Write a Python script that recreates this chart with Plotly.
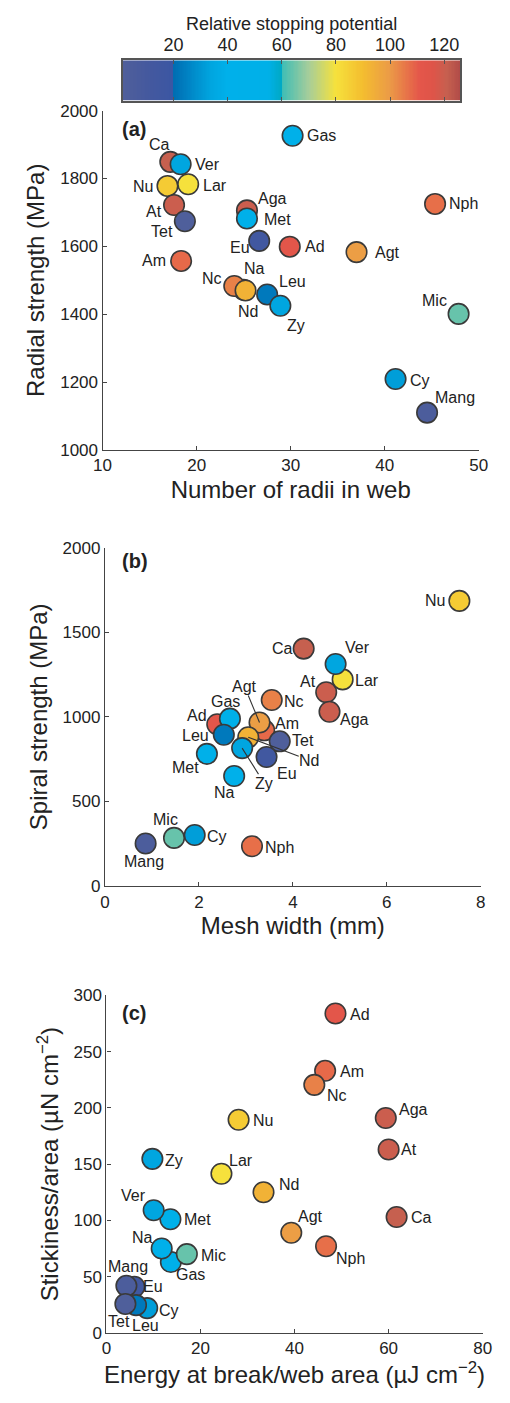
import numpy as np
import plotly.graph_objects as go

# ---------------------------------------------------------------- data
species = ["Ad", "Aga", "Agt", "Am", "At", "Ca", "Cy", "Eu", "Gas", "Lar", "Leu",
           "Mang", "Met", "Mic", "Na", "Nc", "Nd", "Nph", "Nu", "Tet", "Ver", "Zy"]

stopping_potential = [112, 120, 99, 108, 120, 121, 32, 14, 45, 80, 23,
                      5, 45, 64, 42, 104, 93, 107, 86, 2, 34, 34]

radii_count = [29.9, 25.35, 37.0, 18.35, 17.6, 17.2, 41.15, 26.65, 30.2, 19.1, 27.5,
               44.5, 25.35, 47.85, 25.0, 24.0, 25.2, 45.35, 16.9, 18.75, 18.3, 28.9]
radial_strength = [1599, 1706, 1583, 1557, 1722, 1849, 1209, 1616, 1926, 1783, 1458,
                   1110, 1682, 1401, 1472, 1483, 1470, 1725, 1778, 1674, 1842, 1425]

mesh_width = [2.39, 4.78, 3.29, 3.39, 4.71, 4.23, 1.91, 3.44, 2.66, 5.06, 2.53,
              0.865, 2.17, 1.47, 2.75, 3.55, 3.05, 3.13, 7.545, 3.72, 4.91, 2.92]
spiral_strength = [956, 1030, 966, 920, 1145, 1403, 301, 762, 989, 1221, 894,
                   251, 781, 284, 650, 1099, 879, 235, 1685, 855, 1312, 815]

energy_per_area = [48.7, 59.4, 39.3, 46.5, 60.0, 61.7, 8.67, 5.94, 13.7, 24.45, 6.29,
                   4.24, 13.6, 17.1, 11.75, 44.2, 33.4, 46.7, 28.1, 4.03, 10.04, 9.77]
stickiness = [284, 191, 89, 233, 163, 103, 22, 41, 63, 141.5, 24.6,
              41.8, 101, 70, 75, 220.5, 125, 77, 189.5, 25.7, 109, 154.7]

cbar_ticks = [20, 40, 60, 80, 100, 120]
a_xticks = [10, 20, 30, 40, 50]
a_yticks = [1000, 1200, 1400, 1600, 1800, 2000]
b_xticks = [0, 2, 4, 6, 8]
b_yticks = [0, 500, 1000, 1500, 2000]
c_xticks = [0, 20, 40, 60, 80]
c_yticks = [0, 50, 100, 150, 200, 250, 300]

# ---------------------------------------------------------------- colour map
CMIN, CMAX = 0, 126
cmap_stops = [(0, "#52609a"), (10, "#45599e"), (19.9, "#3b56a3"), (20, "#006db2"),
              (34, "#00a6e0"), (40, "#00b0ea"), (55, "#00b0e8"), (59.9, "#00a9c4"),
              (60, "#3dbdb6"), (70, "#a6cd9a"), (80, "#f6e13c"), (90, "#f4bd2f"),
              (100, "#eb9a47"), (111, "#e4564a"), (116, "#de5449"), (121, "#c6604f"),
              (126, "#b04b48")]
colorscale = [[v / CMAX, c] for v, c in cmap_stops]

FONT = "Liberation Sans, Arial, Helvetica, sans-serif"
INK = "#222222"
AXIS = "#444444"
W, H = 510, 1403

idx = {s: i for i, s in enumerate(species)}

# ---------------------------------------------------------------- layout helpers (pixel boxes)
def xdom(l, r):
    return [l / W, r / W]

def ydom(top, bottom):
    return [1 - bottom / H, 1 - top / H]

# drawing order (later = on top) and label placement per panel:
# name -> (anchor, dx, dy) in screen pixels, dy downward
order_a = ["Gas", "Ca", "Ver", "Nu", "Lar", "At", "Tet", "Aga", "Met", "Eu", "Ad", "Agt",
           "Nph", "Am", "Na", "Nc", "Nd", "Leu", "Zy", "Mic", "Cy", "Mang"]
labels_a = {"Gas": ("l", 13, 0), "Ca": ("c", -11, -17), "Ver": ("l", 13, 0),
            "Nu": ("r", -13, 1), "Lar": ("l", 14, 1), "At": ("r", -11, 7),
            "Tet": ("r", -11, 10), "Aga": ("l", 10, -12), "Met": ("l", 16, 1),
            "Eu": ("r", -8, 7), "Ad": ("l", 14, 0), "Agt": ("l", 17, 0),
            "Nph": ("l", 13, 0), "Am": ("r", -14, 0), "Nc": ("r", -11, -8),
            "Na": ("c", 11, -21), "Nd": ("c", 2, 21), "Leu": ("l", 11, -13),
            "Zy": ("c", 16, 20), "Mic": ("r", -11, -13), "Cy": ("l", 13, 1),
            "Mang": ("l", 7, -15)}
leaders_a = {}

order_b = ["Nu", "Ca", "Lar", "Ver", "At", "Aga", "Nc", "Ad", "Gas", "Leu", "Met", "Am",
           "Agt", "Tet", "Nd", "Zy", "Eu", "Na", "Mic", "Cy", "Mang", "Nph"]
labels_b = {"Nu": ("r", -13, 0), "Ca": ("r", -10, 0), "Ver": ("l", 8, -16),
            "Lar": ("l", 11, 1), "At": ("r", -9, -11), "Nc": ("l", 11, 1),
            "Aga": ("l", 10, 8), "Gas": ("c", -4, -17), "Ad": ("r", -9, -9),
            "Am": ("l", 10, -7), "Leu": ("r", -14, 1), "Tet": ("l", 11, -1),
            "Eu": ("l", 9, 16), "Met": ("r", -7, 14), "Na": ("c", -10, 17),
            "Mic": ("c", -9, -18), "Cy": ("l", 11, 1), "Mang": ("c", -2, 18),
            "Nph": ("l", 12, 1)}
leaders_b = {"Agt": (-15, -36), "Nd": (61, 23), "Zy": (22, 35)}

order_c = ["Ad", "Am", "Nc", "Aga", "At", "Nu", "Zy", "Lar", "Nd", "Met", "Ver", "Ca",
           "Agt", "Nph", "Gas", "Na", "Mic", "Eu", "Mang", "Cy", "Leu", "Tet"]
labels_c = {"Ad": ("l", 14, 1), "Am": ("l", 14, 1), "Nc": ("l", 12, 11),
            "Aga": ("l", 12, -9), "Nu": ("l", 13, 1), "At": ("l", 11, 0),
            "Zy": ("l", 12, 2), "Lar": ("l", 7, -13), "Nd": ("l", 14, -8),
            "Ver": ("r", -7, -15), "Met": ("l", 13, 0), "Ca": ("l", 13, 1),
            "Agt": ("l", 6, -16), "Nph": ("l", 9, 12), "Na": ("r", -8, -11),
            "Mic": ("l", 13, 1), "Gas": ("l", 4, 13), "Mang": ("c", 2, -19),
            "Eu": ("l", 8, 0), "Tet": ("c", -6, 18), "Leu": ("c", 9, 20),
            "Cy": ("l", 11, 2)}
leaders_c = {}

fig = go.Figure()
annotations = []

def add_panel(xs, ys, xa, ya, order, labels, leaders):
    ii = [idx[s] for s in order]
    fig.add_trace(go.Scatter(
        x=[xs[i] for i in ii], y=[ys[i] for i in ii],
        mode="markers", xaxis=xa, yaxis=ya,
        text=[species[i] for i in ii],
        marker=dict(size=20.5, color=[stopping_potential[i] for i in ii],
                    colorscale=colorscale, cmin=CMIN, cmax=CMAX, showscale=False,
                    line=dict(color="#3a3a3a", width=1.6)),
        showlegend=False, hoverinfo="text",
    ))
    anchor_map = {"l": "left", "r": "right", "c": "center"}
    for name, (anc, dx, dy) in labels.items():
        i = idx[name]
        annotations.append(dict(
            x=xs[i], y=ys[i], xref=xa, yref=ya, text=name, showarrow=False,
            xanchor=anchor_map[anc], yanchor="middle", xshift=dx, yshift=-dy,
            borderpad=0, font=dict(family=FONT, size=16, color=INK)))
    for name, (ax, ay) in leaders.items():
        i = idx[name]
        annotations.append(dict(
            x=xs[i], y=ys[i], xref=xa, yref=ya, text=name, showarrow=True,
            arrowhead=0, arrowwidth=1.1, arrowcolor="#333333", ax=ax, ay=ay,
            standoff=0, borderpad=0, font=dict(family=FONT, size=16, color=INK)))

add_panel(radii_count, radial_strength, "x", "y", order_a, labels_a, leaders_a)
add_panel(mesh_width, spiral_strength, "x2", "y2", order_b, labels_b, leaders_b)
add_panel(energy_per_area, stickiness, "x3", "y3", order_c, labels_c, leaders_c)

# colour bar strip drawn as a one-row heatmap on its own axes
strip = np.arange(CMIN, CMAX, 0.5) + 0.25
fig.add_trace(go.Heatmap(
    x=strip, y=[0], z=[strip], colorscale=colorscale, zmin=CMIN, zmax=CMAX,
    showscale=False, xaxis="x4", yaxis="y4", hoverinfo="skip"))

def axis_style(domain, rng, ticks, title, anchor, standoff):
    return dict(domain=domain, range=rng, tickvals=ticks, showline=True,
                linecolor=AXIS, linewidth=1.3, ticks="inside", ticklen=4,
                tickcolor=AXIS, tickwidth=1.2, showgrid=False, zeroline=False,
                anchor=anchor, tickfont=dict(family=FONT, size=17, color=INK),
                title=dict(text=title, font=dict(family=FONT, size=24, color=INK),
                           standoff=standoff))

layout = dict(
    width=W, height=H, margin=dict(l=0, r=0, t=0, b=0),
    paper_bgcolor="white", plot_bgcolor="white",
    font=dict(family=FONT, color=INK),
    xaxis=axis_style(xdom(97, 487), [10, 50], a_xticks, "Number of radii in web", "y", 6),
    yaxis=axis_style(ydom(103, 447), [1000, 2000], a_yticks, "Radial strength (MPa)", "x", 8),
    xaxis2=axis_style(xdom(99.5, 489), [0, 8], b_xticks, "Mesh width (mm)", "y2", 6),
    yaxis2=axis_style(ydom(546, 889), [0, 2000], b_yticks, "Spiral strength (MPa)", "x2", 8),
    xaxis3=axis_style(xdom(101, 491), [0, 80], c_xticks,
                      "Energy at break/web area (µJ cm<sup>−2</sup>)", "y3", 6),
    yaxis3=axis_style(ydom(1000, 1342), [0, 300], c_yticks,
                      "Stickiness/area (µN cm<sup>−2</sup>)", "x3", 8),
    xaxis4=dict(domain=xdom(118, 468), range=[1.3, 126], tickvals=cbar_ticks,
                side="top", anchor="y4", showline=True, mirror="ticks",
                linecolor="#555555", linewidth=1.5, ticks="inside", ticklen=4,
                tickcolor="#555555", showgrid=False, zeroline=False,
                tickfont=dict(family=FONT, size=18, color=INK),
                title=dict(text="Relative stopping potential",
                           font=dict(family=FONT, size=18, color=INK), standoff=0)),
    yaxis4=dict(domain=ydom(52, 93), range=[-0.5, 0.5], anchor="x4", showline=True,
                mirror=True, linecolor="#555555", linewidth=1.5, ticks="",
                showticklabels=False, showgrid=False, zeroline=False),
)

for letter, ypx in (("(a)", 122), ("(b)", 560), ("(c)", 1018)):
    annotations.append(dict(x=115 / W, y=1 - ypx / H, xref="paper", yref="paper",
                            text=f"<b>{letter}</b>", showarrow=False, xanchor="left",
                            yanchor="middle", font=dict(family=FONT, size=20, color=INK)))

layout["annotations"] = annotations
fig.update_layout(**layout)
fig.write_html("out.html")
